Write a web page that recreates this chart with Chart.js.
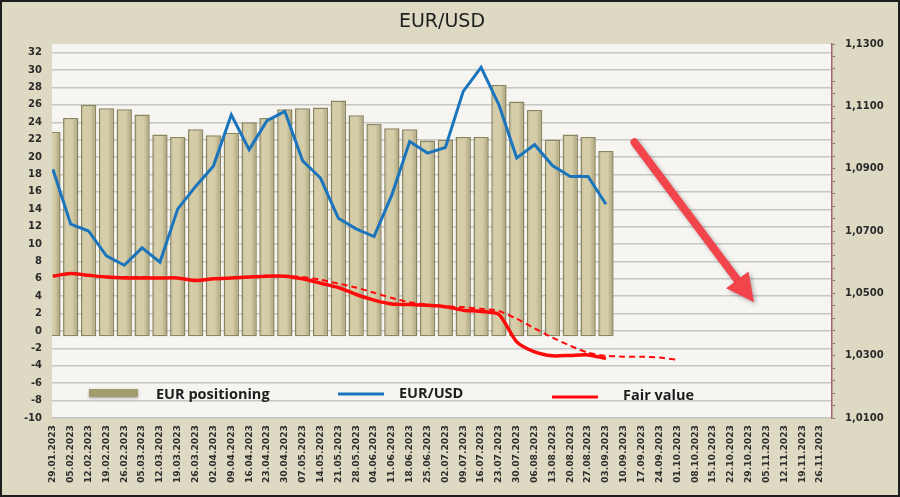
<!DOCTYPE html>
<html>
<head>
<meta charset="utf-8">
<title>EUR/USD</title>
<script src="https://cdn.jsdelivr.net/npm/chart.js@4/dist/chart.umd.min.js"></script>
<style>
  html, body { margin: 0; padding: 0; background: #ddd9c3; }
  canvas { display: block; }
</style>
</head>
<body>
<canvas id="chart" width="900" height="497"></canvas>
<script>
// weekly dates on the category axis
const weeks = ['29.01.2023', '05.02.2023', '12.02.2023', '19.02.2023', '26.02.2023', '05.03.2023', '12.03.2023',
  '19.03.2023', '26.03.2023', '02.04.2023', '09.04.2023', '16.04.2023', '23.04.2023', '30.04.2023', '07.05.2023',
  '14.05.2023', '21.05.2023', '28.05.2023', '04.06.2023', '11.06.2023', '18.06.2023', '25.06.2023', '02.07.2023',
  '09.07.2023', '16.07.2023', '23.07.2023', '30.07.2023', '06.08.2023', '13.08.2023', '20.08.2023', '27.08.2023',
  '03.09.2023', '10.09.2023', '17.09.2023', '24.09.2023', '01.10.2023', '08.10.2023', '15.10.2023', '22.10.2023',
  '29.10.2023', '05.11.2023', '12.11.2023', '19.11.2023', '26.11.2023'];

const positioning = [22.9, 24.5, 26.0, 25.6, 25.5, 24.9, 22.6, 22.3, 23.2, 22.5, 22.8, 24.0, 24.5, 25.5, 25.6, 25.7,
  26.5, 24.8, 23.8, 23.3, 23.2, 21.9, 22.0, 22.3, 22.3, 28.3, 26.4, 25.4, 22.0, 22.6, 22.3, 20.7];

const eurusd = [1.0898, 1.0722, 1.0700, 1.0620, 1.0590, 1.0646, 1.0600, 1.0771, 1.0843, 1.0909, 1.1073, 1.0961,
  1.1054, 1.1084, 1.0925, 1.0870, 1.0741, 1.0707, 1.0682, 1.0816, 1.0987, 1.0950, 1.0968, 1.1148, 1.1225, 1.1105,
  1.0934, 1.0977, 1.0910, 1.0875, 1.0875, 1.0786];

const fairValue = [6.3, 6.6, 6.4, 6.2, 6.1, 6.1, 6.1, 6.1, 5.8, 6.0, 6.1, 6.2, 6.3, 6.3, 6.0, 5.5, 5.0, 4.2, 3.55,
  3.1, 3.05, 2.95, 2.8, 2.4, 2.25, 1.9, -1.25, -2.4, -2.85, -2.8, -2.75, -3.15];

const fairValueTrend = [6.3, 6.6, 6.4, 6.25, 6.2, 6.2, 6.1, 6.1, 5.9, 6.0, 6.1, 6.2, 6.35, 6.3, 6.2, 5.9, 5.45, 5.0,
  4.4, 3.8, 3.3, 3.05, 2.85, 2.75, 2.55, 2.3, 1.4, 0.3, -0.75, -1.7, -2.5, -2.85, -2.95, -2.95, -3.05, -3.3];

// arrow annotation, in data units (x = week index, y = left axis)
const arrowFrom = [32.6, 21.7];
const arrowTo = [39.3, 3.3];

const khaki = '#d4cca6';
const blue = '#1b75bc';
const red = '#ff0a0a';

// shaded fill so the columns look a bit rounded like the original
function barFill(c) {
  const xs = c.chart.scales.x;
  if (c.type !== 'data' || !xs) return khaki;
  const cx = xs.getPixelForValue(c.dataIndex);
  if (!isFinite(cx)) return khaki;
  const g = c.chart.ctx.createLinearGradient(cx - 8, 0, cx + 8, 0);
  g.addColorStop(0, '#aaa27c');
  g.addColorStop(0.2, '#d6ceaa');
  g.addColorStop(0.6, '#d4cca6');
  g.addColorStop(1, '#a49c76');
  return g;
}

const frame = {
  id: 'frame',
  beforeDraw(chart) {
    const { ctx, chartArea: a, width, height } = chart;
    ctx.save();
    ctx.fillStyle = '#ddd9c3';
    ctx.fillRect(0, 0, width, height);
    ctx.fillStyle = '#f6f5f1';
    ctx.fillRect(a.left, a.top, a.right - a.left, a.bottom - a.top);
    ctx.strokeStyle = '#1e1e1e';
    ctx.lineWidth = 2;
    ctx.strokeRect(1, 1, width - 2, height - 2);
    ctx.restore();
  }
};

const extras = {
  id: 'extras',
  afterDatasetsDraw(chart) {
    const { ctx } = chart;
    const x = chart.scales.x, y = chart.scales.y;

    // legend inside the plot
    ctx.save();
    ctx.font = 'bold 14.5px "Open Sans"';
    ctx.textBaseline = 'middle';
    ctx.shadowColor = 'rgba(0,0,0,0.35)';
    ctx.shadowBlur = 3;
    ctx.shadowOffsetY = 1;
    ctx.fillStyle = '#a39d6e';
    ctx.fillRect(89, 389, 49, 8);
    ctx.shadowColor = 'transparent';
    ctx.lineWidth = 3;
    ctx.strokeStyle = blue;
    ctx.beginPath(); ctx.moveTo(338, 394); ctx.lineTo(384, 394); ctx.stroke();
    ctx.strokeStyle = red;
    ctx.beginPath(); ctx.moveTo(552, 397); ctx.lineTo(598, 397); ctx.stroke();
    ctx.fillStyle = '#1e1e1e';
    ctx.fillText('EUR positioning', 156, 395);
    ctx.fillText('EUR/USD', 399, 394);
    ctx.fillText('Fair value', 623, 396);
    ctx.restore();

    // arrow
    const x0 = x.getPixelForValue(arrowFrom[0]), y0 = y.getPixelForValue(arrowFrom[1]);
    const x1 = x.getPixelForValue(arrowTo[0]), y1 = y.getPixelForValue(arrowTo[1]);
    const ang = Math.atan2(y1 - y0, x1 - x0);
    const headLen = 28, headHalf = 14;
    const bx = x1 - headLen * Math.cos(ang), by = y1 - headLen * Math.sin(ang);
    ctx.save();
    ctx.shadowColor = 'rgba(0,0,0,0.3)';
    ctx.shadowBlur = 4;
    ctx.shadowOffsetX = 2;
    ctx.shadowOffsetY = 2;
    ctx.strokeStyle = '#f2444b';
    ctx.fillStyle = '#f2444b';
    ctx.lineWidth = 8;
    ctx.lineCap = 'round';
    ctx.beginPath(); ctx.moveTo(x0, y0); ctx.lineTo(bx, by); ctx.stroke();
    ctx.beginPath();
    ctx.moveTo(x1, y1);
    ctx.lineTo(bx + headHalf * Math.sin(ang), by - headHalf * Math.cos(ang));
    ctx.lineTo(bx - headHalf * Math.sin(ang), by + headHalf * Math.cos(ang));
    ctx.closePath();
    ctx.fill();
    ctx.restore();
  }
};

const ctx = document.getElementById('chart').getContext('2d');
const chart = new Chart(ctx, {
  data: {
    labels: weeks.map((w, i) => i),
    datasets: [
      {
        type: 'line',
        label: 'EUR/USD',
        data: eurusd,
        yAxisID: 'y1',
        borderColor: blue,
        borderWidth: 3,
        pointRadius: 0,
        tension: 0,
        order: 1
      },
      {
        type: 'line',
        label: 'Fair value',
        data: fairValue,
        yAxisID: 'y',
        borderColor: red,
        borderWidth: 3.5,
        pointRadius: 0,
        tension: 0.25,
        order: 2
      },
      {
        type: 'line',
        label: 'Fair value trend',
        data: fairValueTrend,
        yAxisID: 'y',
        borderColor: red,
        borderWidth: 2,
        borderDash: [6, 4],
        pointRadius: 0,
        tension: 0.2,
        order: 3
      },
      {
        type: 'bar',
        label: 'EUR positioning',
        data: positioning,
        yAxisID: 'y',
        base: -0.6,
        backgroundColor: barFill,
        borderColor: '#8a845f',
        borderWidth: 1.5,
        borderSkipped: false,
        categoryPercentage: 1,
        barPercentage: 0.86,
        order: 4
      }
    ]
  },
  options: {
    responsive: false,
    animation: false,
    layout: { padding: 0 },
    plugins: {
      legend: { display: false },
      tooltip: { enabled: false },
      title: {
        display: true,
        text: 'EUR/USD',
        fullSize: false,
        color: '#1e1e1e',
        font: { family: 'DejaVu Sans', size: 19, weight: 'normal', lineHeight: 1.2 },
        padding: { top: 11, bottom: 10.2 }
      }
    },
    scales: {
      x: {
        type: 'linear',
        offset: false,
        min: -0.05,
        max: 43.67,
        afterBuildTicks: (s) => { s.ticks = weeks.map((w, i) => ({ value: i })); },
        afterFit: (s) => { s.height = 79; },
        grid: { display: false, drawTicks: false, offset: false },
        border: { display: false },
        ticks: {
          autoSkip: false,
          maxRotation: 90,
          minRotation: 90,
          padding: 7,
          color: '#2e2e2e',
          font: { family: 'DejaVu Sans', size: 9.2, weight: 'bold' },
          callback: (v) => weeks[v]
        }
      },
      y: {
        position: 'left',
        min: -10,
        max: 33,
        afterFit: (s) => { s.width = 52; },
        grid: { color: '#c6c6c2', lineWidth: 1.5, drawTicks: false },
        border: { display: false },
        ticks: {
          stepSize: 2,
          includeBounds: false,
          padding: 10,
          color: '#2a2a2a',
          font: { family: 'DejaVu Sans', size: 10, weight: 'bold' }
        }
      },
      y1: {
        position: 'right',
        min: 1.01,
        max: 1.13,
        afterFit: (s) => { s.width = 68; },
        grid: { drawOnChartArea: false, color: '#9a6a6a', tickLength: 3 },
        border: { display: true, color: '#9a6a6a', width: 1.5 },
        ticks: {
          stepSize: 0.004,
          autoSkip: false,
          padding: 10,
          color: '#2a2a2a',
          font: { family: 'DejaVu Sans', size: 10, weight: 'bold' },
          callback: (v) => {
            const k = Math.round((v - 1.01) / 0.004);
            return k % 5 === 0 ? v.toFixed(4).replace('.', ',') : '';
          }
        }
      }
    }
  },
  plugins: [frame, extras]
});
</script>
</body>
</html>
